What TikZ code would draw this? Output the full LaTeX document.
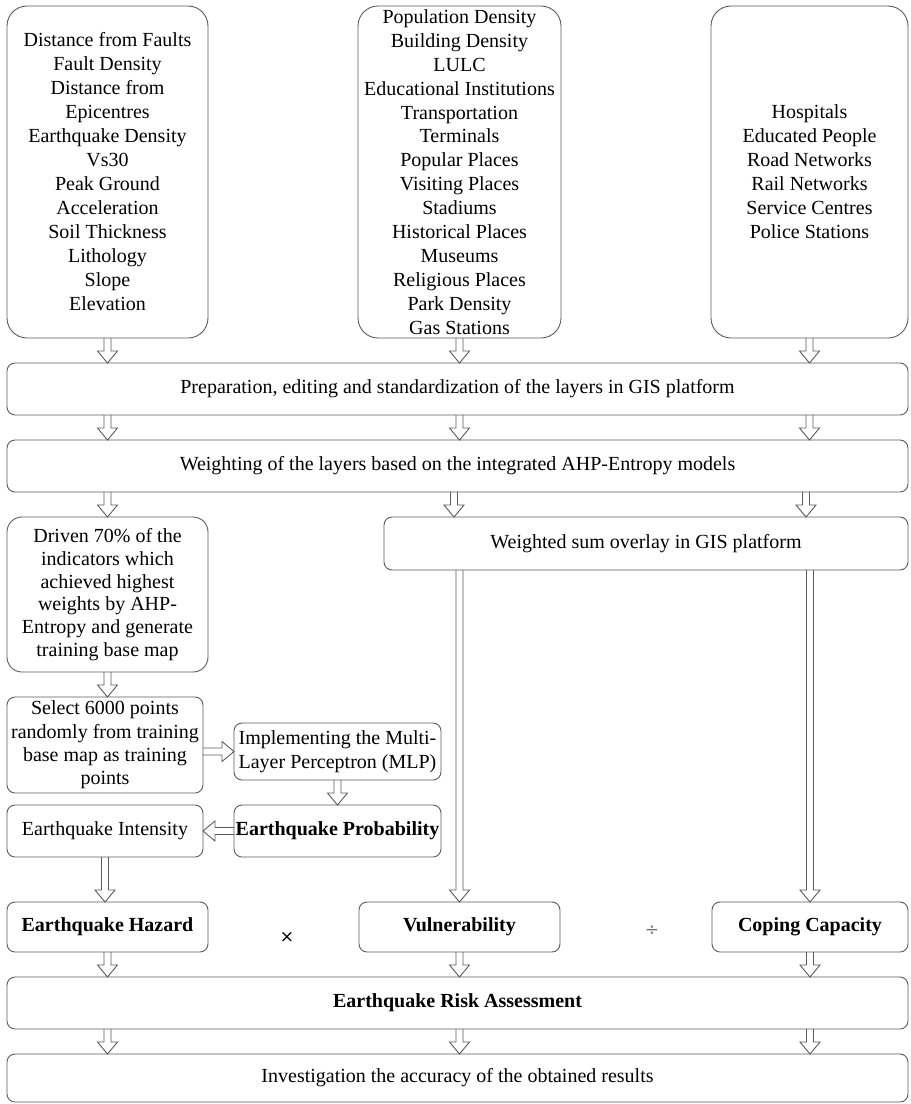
\documentclass[tikz,border=0pt]{standalone}
\usepackage{fontspec}
\setmainfont{Liberation Serif}
\newfontfamily\opfont{DejaVu Sans}
\usetikzlibrary{calc}
\definecolor{lc}{HTML}{5A5A5A}
\tikzset{
  box/.style={draw=lc, line width=0.9pt, rounded corners=8pt, inner sep=0pt, outer sep=0pt,
    align=center, font=\fontsize{20}{24}\selectfont, text=black},
  bigbox/.style={box, rounded corners=20pt},
  hollow/.style={draw=lc, line width=0.9pt, line join=miter,
    to path={
      ($(\tikztostart)!3.5pt!90:(\tikztotarget)$)
      -- ($($(\tikztotarget)!12pt!(\tikztostart)$)!3.5pt!90:(\tikztotarget)$)
      -- ($($(\tikztotarget)!12pt!(\tikztostart)$)!10pt!90:(\tikztotarget)$)
      -- (\tikztotarget)
      -- ($($(\tikztotarget)!12pt!(\tikztostart)$)!10pt!-90:(\tikztotarget)$)
      -- ($($(\tikztotarget)!12pt!(\tikztostart)$)!3.5pt!-90:(\tikztotarget)$)
      -- ($(\tikztostart)!3.5pt!-90:(\tikztotarget)$)
    }},
  opsign/.style={inner sep=0pt, font=\opfont\fontsize{17}{20}\selectfont}
}
\begin{document}
\begin{tikzpicture}[x=1pt,y=-1pt]
\useasboundingbox (0,0) rectangle (911,1104);

% top boxes
\node[bigbox, minimum width=201pt, minimum height=332pt] (top1) at (107.5,172)
 {Distance from Faults\\Fault Density\\Distance from\\Epicentres\\Earthquake Density\\Vs30\\Peak Ground\\Acceleration\\Soil Thickness\\Lithology\\Slope\\Elevation};
\node[bigbox, minimum width=203pt, minimum height=332pt, font=\fontsize{20}{23.9}\selectfont] (top2) at (459.5,172)
 {Population Density\\Building Density\\LULC\\Educational Institutions\\Transportation\\Terminals\\Popular Places\\Visiting Places\\Stadiums\\Historical Places\\Museums\\Religious Places\\Park Density\\Gas Stations};
\node[bigbox, minimum width=197pt, minimum height=332pt] (top3) at (809.5,172)
 {Hospitals\\Educated People\\Road Networks\\Rail Networks\\Service Centres\\Police Stations};

% wide boxes
\node[box, minimum width=901pt, minimum height=52pt] (prep) at (457.5,389)
 {Preparation, editing and standardization of the layers in GIS platform};
\node[box, minimum width=901pt, minimum height=52pt] (weight) at (457.5,466)
 {Weighting of the layers based on the integrated AHP-Entropy models};

% middle section
\node[box, rounded corners=15pt, minimum width=201pt, minimum height=155pt, font=\fontsize{20}{22.7}\selectfont] (driven) at (107.5,594.5)
 {Driven 70\% of the\\indicators which\\achieved highest\\weights by AHP-\\Entropy and generate\\training base map};
\node[box, minimum width=524pt, minimum height=53pt] (ws) at (646,543.5)
 {Weighted sum overlay in GIS platform};
\node[box, minimum width=196pt, minimum height=96pt, font=\fontsize{20}{23.3}\selectfont] (select) at (105,745)
 {Select 6000 points\\randomly from training\\base map as training\\points};
\node[box, minimum width=207pt, minimum height=57pt] (impl) at (337.5,751.5)
 {Implementing the Multi-\\Layer Perceptron (MLP)};
\node[box, minimum width=207pt, minimum height=52pt] (prob) at (337.5,831)
 {\textbf{Earthquake Probability}};
\node[box, minimum width=196pt, minimum height=52pt] (inten) at (105,831)
 {Earthquake Intensity};

% components
\node[box, minimum width=201pt, minimum height=50pt] (haz) at (107.5,927) {\textbf{Earthquake Hazard}};
\node[box, minimum width=201pt, minimum height=50pt] (vul) at (459.5,927) {\textbf{Vulnerability}};
\node[box, minimum width=196pt, minimum height=50pt] (cop) at (810,927) {\textbf{Coping Capacity}};
\node[opsign] (mult) at (287,937) {×};
\node[opsign, text=black!55] (divd) at (652,931) {÷};

% bottom
\node[box, minimum width=901pt, minimum height=52pt] (risk) at (457.5,1003) {\textbf{Earthquake Risk Assessment}};
\node[box, minimum width=901pt, minimum height=48pt] (inv) at (457.5,1078) {Investigation the accuracy of the obtained results};

% arrows
\draw[hollow] (top1.south) to (top1.south |- prep.north);
\draw[hollow] (top2.south) to (top2.south |- prep.north);
\draw[hollow] (top3.south) to (top3.south |- prep.north);

\draw[hollow] (top1.south |- prep.south) to (top1.south |- weight.north);
\draw[hollow] (top2.south |- prep.south) to (top2.south |- weight.north);
\draw[hollow] (top3.south |- prep.south) to (top3.south |- weight.north);

\coordinate (wsin1) at (454,492);
\coordinate (wsin2) at (806,492);
\draw[hollow] (driven.north |- weight.south) to (driven.north);
\draw[hollow] (wsin1) to (wsin1 |- ws.north);
\draw[hollow] (wsin2) to (wsin2 |- ws.north);

\draw[hollow] (driven.south) to (driven.south |- select.north);
\draw[hollow] (select.east |- impl.west) to (impl.west);
\draw[hollow] (impl.south) to (prob.north);
\draw[hollow] (prob.west) to (inten.east);
\draw[hollow] (inten.south) to (inten.south |- haz.north);

\draw[hollow] (vul.north |- ws.south) to (vul.north);
\draw[hollow] (cop.north |- ws.south) to (cop.north);

\draw[hollow] (haz.south) to (haz.south |- risk.north);
\draw[hollow] (vul.south) to (vul.south |- risk.north);
\draw[hollow] (cop.south) to (cop.south |- risk.north);

\draw[hollow] (haz.south |- risk.south) to (haz.south |- inv.north);
\draw[hollow] (vul.south |- risk.south) to (vul.south |- inv.north);
\draw[hollow] (cop.south |- risk.south) to (cop.south |- inv.north);
\end{tikzpicture}
\end{document}
